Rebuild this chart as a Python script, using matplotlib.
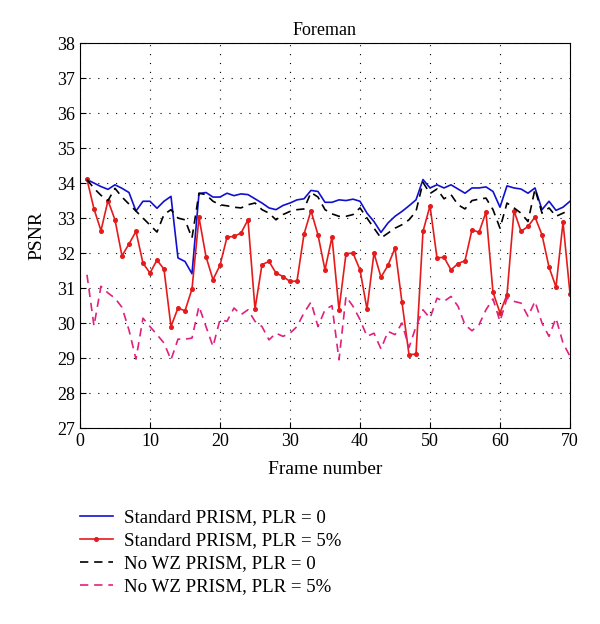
"""
Foreman sequence: PSNR per frame for standard / no-WZ PRISM at two loss rates.
"""

import matplotlib
matplotlib.use('Agg')
import matplotlib.pyplot as plt
import numpy as np

frames = np.arange(1, 71)

# Standard PRISM, PLR = 0
std_plr0 = [34.1, 34.0, 33.9, 33.82, 33.95, 33.85, 33.73, 33.2, 33.48, 33.48,
            33.28, 33.48, 33.62, 31.86, 31.76, 31.41, 33.7, 33.73, 33.6, 33.6,
            33.71, 33.64, 33.69, 33.67, 33.55, 33.43, 33.29, 33.24, 33.36, 33.43,
            33.52, 33.55, 33.79, 33.76, 33.45, 33.45, 33.52, 33.5, 33.54, 33.48,
            33.14, 32.9, 32.59, 32.86, 33.05, 33.19, 33.35, 33.52, 34.1, 33.86,
            33.95, 33.86, 33.95, 33.83, 33.71, 33.86, 33.86, 33.89, 33.76, 33.31,
            33.92, 33.86, 33.83, 33.71, 33.86, 33.24, 33.48, 33.22, 33.31, 33.48]

# Standard PRISM, PLR = 5%
std_plr5 = [34.11, 33.26, 32.64, 33.5, 32.95, 31.92, 32.26, 32.62, 31.71, 31.43,
            31.8, 31.54, 29.9, 30.43, 30.35, 30.97, 33.02, 31.9, 31.24, 31.65,
            32.45, 32.48, 32.57, 32.95, 30.4, 31.67, 31.76, 31.43, 31.33, 31.19,
            31.2, 32.54, 33.21, 32.52, 31.52, 32.46, 30.38, 31.98, 32.0, 31.52,
            30.4, 32.0, 31.31, 31.65, 32.14, 30.59, 29.1, 29.11, 32.62, 33.35,
            31.86, 31.88, 31.52, 31.7, 31.78, 32.67, 32.59, 33.17, 30.88, 30.29,
            30.81, 33.21, 32.62, 32.76, 33.03, 32.52, 31.6, 31.03, 32.88, 30.84]

# No WZ PRISM, PLR = 0
nowz_plr0 = [34.1, 33.85, 33.65, 33.5, 33.85, 33.6, 33.4, 33.2, 33.0, 32.8,
             32.6, 33.1, 33.24, 33.0, 32.95, 32.43, 33.71, 33.67, 33.48, 33.38,
             33.35, 33.31, 33.29, 33.38, 33.43, 33.24, 33.14, 32.95, 33.1, 33.19,
             33.24, 33.26, 33.73, 33.6, 33.24, 33.12, 33.05, 33.05, 33.1, 33.29,
             33.0, 32.71, 32.43, 32.57, 32.71, 32.81, 32.95, 33.19, 34.02, 33.7,
             33.83, 33.55, 33.67, 33.38, 33.26, 33.5, 33.54, 33.57, 33.24, 32.71,
             33.43, 33.29, 33.14, 32.9, 33.83, 33.14, 33.29, 33.05, 33.14, 33.24]

# No WZ PRISM, PLR = 5%
nowz_plr5 = [31.38, 29.92, 31.05, 30.86, 30.71, 30.45, 29.8, 28.97, 30.14, 29.9,
             29.67, 29.43, 28.95, 29.54, 29.54, 29.57, 30.48, 29.9, 29.33, 30.1,
             30.05, 30.43, 30.24, 30.38, 30.05, 29.9, 29.52, 29.71, 29.62, 29.71,
             29.9, 30.29, 30.6, 29.9, 30.38, 30.5, 28.95, 30.76, 30.48, 30.1,
             29.62, 29.71, 29.26, 29.76, 29.67, 30.0, 29.3, 29.9, 30.38, 30.14,
             30.71, 30.62, 30.76, 30.48, 29.95, 29.78, 29.95, 30.38, 30.69, 30.05,
             30.71, 30.62, 30.57, 30.19, 30.62, 30.0, 29.62, 30.14, 29.43, 29.05]

labels = ['Standard PRISM, PLR = 0', 'Standard PRISM, PLR = 5%',
          'No WZ PRISM, PLR = 0', 'No WZ PRISM, PLR = 5%']

plt.rcParams['font.family'] = ['Liberation Serif', 'DejaVu Serif']

fig = plt.figure(figsize=(6.0, 6.24), dpi=100)
ax = fig.add_axes([0.1333, 0.314, 0.8167, 0.617])

ax.plot(frames, std_plr0, color='#1010d0', lw=1.2, label=labels[0])
ax.plot(frames, std_plr5, color='#e51b1b', lw=1.2, marker='o', ms=2.6,
        label=labels[1])
ax.plot(frames, nowz_plr0, color='black', lw=1.2, dashes=(5, 3.5),
        label=labels[2])
ax.plot(frames, nowz_plr5, color='#e0207f', lw=1.2, dashes=(5, 3.5),
        label=labels[3])

ax.set_xlim(0, 70)
ax.set_ylim(27, 38)
ax.set_xticks(np.arange(0, 71, 10))
ax.set_yticks(np.arange(27, 39, 1))
ax.tick_params(direction='in', labelsize=13, length=4)
ax.grid(True, color='black', linestyle=(0, (1, 7)), lw=0.8)
ax.set_title('Foreman', fontsize=13, pad=6)
ax.set_xlabel('Frame number', fontsize=14, labelpad=8)
ax.set_ylabel('PSNR', fontsize=14, labelpad=8)

fig.legend(loc='upper left', bbox_to_anchor=(0.12, 0.196), frameon=False,
           fontsize=13.6, handlelength=1.75, handletextpad=0.6, numpoints=1,
           labelspacing=0.3, borderaxespad=0)

fig.savefig('out.png', dpi=100)
